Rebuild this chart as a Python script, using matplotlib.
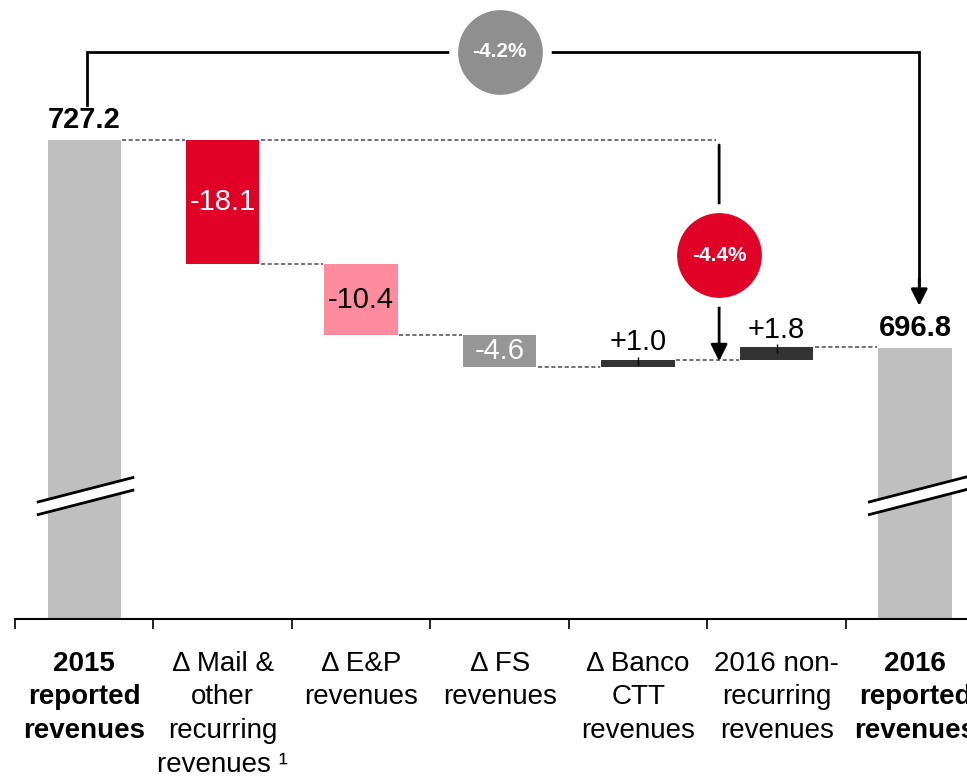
import matplotlib
matplotlib.use("Agg")
import matplotlib.pyplot as plt

plt.rcParams['font.family'] = ['Liberation Sans', 'DejaVu Sans']

# data
categories = ["2015\nreported\nrevenues", "Δ Mail &\nother\nrecurring\nrevenues ¹",
              "Δ E&P\nrevenues", "Δ FS\nrevenues", "Δ Banco\nCTT\nrevenues",
              "2016 non-\nrecurring\nrevenues", "2016\nreported\nrevenues"]
start_value = 727.2
deltas = [-18.1, -10.4, -4.6, 1.0, 1.8]
end_value = 696.8
delta_labels = ["-18.1", "-10.4", "-4.6", "+1.0", "+1.8"]
total_growth = "-4.2%"
recurring_growth = "-4.4%"

# colours
c_total = "#BFBFBF"
c_delta = ["#E10026", "#FF8C9E", "#969696", "#333333", "#333333"]
c_delta_txt = ["white", "black", "white", "black", "black"]
c_red = "#E10026"
c_circle_grey = "#8F8F8F"

fig = plt.figure(figsize=(9.67, 7.76), dpi=100)
ax = fig.add_axes([15 / 967, 1 - 619 / 776, 952 / 967, 619 / 776])

w = 0.53
n = len(categories)

# totals (broken bars, clipped at the axis bottom)
ax.bar([0, n - 1], [start_value, end_value], width=w, color=c_total, zorder=2)

# waterfall steps
levels = [start_value]
for d in deltas:
    levels.append(levels[-1] + d)
for i, d in enumerate(deltas):
    x = i + 1
    ax.bar(x, d, bottom=levels[i], width=w, color=c_delta[i], zorder=2)
    if d < 0:
        ax.text(x, levels[i] + d / 2, delta_labels[i], ha="center", va="center",
                fontsize=21, color=c_delta_txt[i], zorder=4)
    else:
        ax.annotate(delta_labels[i], (x, levels[i + 1]), xytext=(0, 7),
                    textcoords="offset points", ha="center", va="baseline",
                    fontsize=21, color="black")
        ax.vlines(x, levels[i + 1] - 0.75, levels[i + 1] + 0.45, color="black",
                  lw=1, zorder=3)

# total labels
for x, v in [(0, start_value), (n - 1, end_value)]:
    ax.annotate(f"{v:.1f}", (x, v), xytext=(0, 9), textcoords="offset points",
                ha="center", va="baseline", fontsize=21, fontweight="bold")

# dashed connectors
dash = dict(color="#595959", lw=1.2, linestyle=(0, (2.5, 1.5)), zorder=1)
for i in range(len(levels)):
    ax.plot([i + w / 2 + 0.01, i + 1 - w / 2 - 0.01], [levels[i], levels[i]], **dash)
# long reference line for the recurring change
ax.plot([1 + w / 2 + 0.01, 4.56], [start_value, start_value], **dash)

# break marks on the total bars
brk = 675.2
for x0, x1 in [(-0.342, 0.361), (5.66, 6.75)]:
    slope = (677.93 - 674.27) / (0.361 + 0.342)
    ys_up = [brk - 0.93, brk - 0.93 + slope * (x1 - x0)]
    ys_lo = [y - 1.85 for y in ys_up]
    ax.fill([x0, x1, x1, x0], [ys_up[0], ys_up[1], ys_lo[1], ys_lo[0]],
            color="white", zorder=3)
    ax.plot([x0, x1], ys_up, color="black", lw=2, zorder=3, solid_capstyle="butt")
    ax.plot([x0, x1], ys_lo, color="black", lw=2, zorder=3, solid_capstyle="butt")

head = dict(arrowstyle="-|>,head_length=0.5,head_width=0.25", mutation_scale=20,
            lw=2, color="black", shrinkA=0, shrinkB=0)

# overall change arrow (-4.2%)
top_y = 740.1
ax.plot([0.02, 0.02, 6.03, 6.03], [732.3, top_y, top_y, 706.0], color="black",
        lw=2, zorder=5, solid_joinstyle="miter")
ax.annotate("", xy=(6.03, 703.0), xytext=(6.03, 707.0), arrowprops=head, zorder=5)
ax.scatter([3.0], [top_y], s=5300, color="white", zorder=6, clip_on=False)
ax.scatter([3.0], [top_y], s=3600, color=c_circle_grey, zorder=7, clip_on=False)
ax.text(3.0, top_y, total_growth, ha="center", va="center", fontsize=15,
        fontweight="bold", color="white", zorder=8)

# recurring change arrow (-4.4%)
arr_x = 4.585
circ_y = 710.4
ax.annotate("", xy=(arr_x, levels[4] - 0.2), xytext=(arr_x, 726.5),
            arrowprops=head, zorder=5)
ax.scatter([arr_x], [circ_y], s=5300, color="white", zorder=6)
ax.scatter([arr_x], [circ_y], s=3600, color=c_red, zorder=7)
ax.text(arr_x, circ_y, recurring_growth, ha="center", va="center", fontsize=15,
        fontweight="bold", color="white", zorder=8)

# axis styling
for s in ["top", "right", "left"]:
    ax.spines[s].set_visible(False)
ax.spines["bottom"].set_linewidth(1.5)
ax.set_yticks([])
ax.set_xticks([i - 0.5 for i in range(n)])
ax.set_xticklabels([])
ax.tick_params(axis="x", direction="out", length=7.5, width=1.2)
ax.set_xlim(-0.5, 6.375)
ax.set_ylim(657.2, 747.7)

for i, lab in enumerate(categories):
    bold = i in (0, n - 1)
    ax.text(i, -0.051, lab, transform=ax.get_xaxis_transform(), ha="center",
            va="top", fontsize=20, linespacing=1.39,
            fontweight="bold" if bold else "normal", clip_on=False)

fig.savefig("out.png", dpi=100)
